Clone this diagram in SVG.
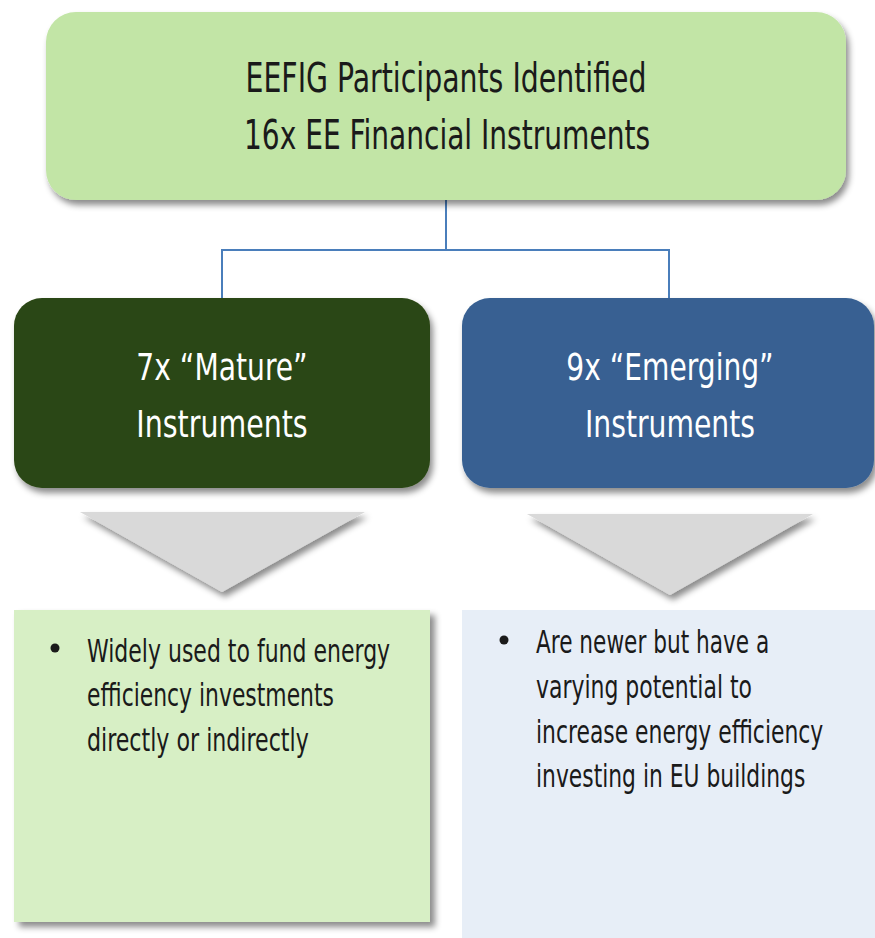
<svg xmlns="http://www.w3.org/2000/svg" width="875" height="938" viewBox="0 0 875 938">
<defs>
<filter id="sh" x="-10%" y="-10%" width="130%" height="140%">
<feDropShadow dx="3" dy="5" stdDeviation="3" flood-color="#000" flood-opacity="0.45"/>
</filter>
<filter id="sh2" x="-10%" y="-10%" width="130%" height="130%">
<feDropShadow dx="5" dy="5" stdDeviation="3" flood-color="#000" flood-opacity="0.45"/>
</filter>
</defs>
<style>
text{font-family:"DejaVu Sans Condensed","DejaVu Sans","Liberation Sans",sans-serif;}
.h{font-size:40px;fill:#1a1a1a;text-anchor:middle;}
.m{font-size:37px;fill:#ffffff;text-anchor:middle;}
.b{font-size:32px;fill:#1a1a1a;}
.conn{fill:none;stroke:#4a7ebb;stroke-width:2;}
</style>
<rect width="875" height="938" fill="#ffffff"/>

<g id="connectors">
<path class="conn" d="M446,200 V250 M222,298 V250 H669 V298"/>
</g>

<g id="top">
<rect x="46" y="12" width="800" height="188" rx="30" fill="#c2e5a6" filter="url(#sh)"/>
<text class="h" transform="matrix(0.72 0 0 1 446 92)" x="0" y="0" textLength="557" lengthAdjust="spacingAndGlyphs">EEFIG Participants Identified</text>
<text class="h" transform="matrix(0.72 0 0 1 447 149)" x="0" y="0" textLength="564" lengthAdjust="spacingAndGlyphs">16x EE Financial Instruments</text>
</g>

<g id="mature">
<rect x="14" y="298" width="416" height="190" rx="28" fill="#2a4614" filter="url(#sh)"/>
<text class="m" transform="matrix(0.72 0 0 1 222 380)" x="0" y="0" textLength="238" lengthAdjust="spacingAndGlyphs">7x “Mature”</text>
<text class="m" transform="matrix(0.72 0 0 1 222 437)" x="0" y="0" textLength="238" lengthAdjust="spacingAndGlyphs">Instruments</text>
</g>

<g id="emerging">
<rect x="462" y="298" width="412" height="190" rx="28" fill="#376092" filter="url(#sh)"/>
<text class="m" transform="matrix(0.72 0 0 1 670 380)" x="0" y="0" textLength="288" lengthAdjust="spacingAndGlyphs">9x “Emerging”</text>
<text class="m" transform="matrix(0.72 0 0 1 670 437)" x="0" y="0" textLength="236" lengthAdjust="spacingAndGlyphs">Instruments</text>
</g>

<g id="arrow-left">
<polygon points="80,512 365,512 222,592" fill="#d9d9d9" filter="url(#sh)"/>
</g>
<g id="arrow-right">
<polygon points="527,514 813,514 670,595" fill="#d9d9d9" filter="url(#sh)"/>
</g>

<g id="mature-desc">
<rect x="14" y="610" width="416" height="312" fill="#d7efc5" filter="url(#sh2)"/>
<circle cx="55" cy="648" r="4.5" fill="#1a1a1a"/>
<text class="b" transform="matrix(0.72 0 0 1 87 662)" x="0" y="0" textLength="421" lengthAdjust="spacingAndGlyphs">Widely used to fund energy</text>
<text class="b" transform="matrix(0.72 0 0 1 87 706)" x="0" y="0" textLength="343" lengthAdjust="spacingAndGlyphs">efficiency investments</text>
<text class="b" transform="matrix(0.72 0 0 1 87 751)" x="0" y="0" textLength="308" lengthAdjust="spacingAndGlyphs">directly or indirectly</text>
</g>

<g id="emerging-desc">
<rect x="462" y="610" width="413" height="328" fill="#e7eef7"/>
<circle cx="504" cy="640" r="4.5" fill="#1a1a1a"/>
<text class="b" transform="matrix(0.72 0 0 1 536 653)" x="0" y="0" textLength="324" lengthAdjust="spacingAndGlyphs">Are newer but have a</text>
<text class="b" transform="matrix(0.72 0 0 1 536 698)" x="0" y="0" textLength="300" lengthAdjust="spacingAndGlyphs">varying potential to</text>
<text class="b" transform="matrix(0.72 0 0 1 536 743)" x="0" y="0" textLength="399" lengthAdjust="spacingAndGlyphs">increase energy efficiency</text>
<text class="b" transform="matrix(0.72 0 0 1 536 787)" x="0" y="0" textLength="374" lengthAdjust="spacingAndGlyphs">investing in EU buildings</text>
</g>
</svg>
